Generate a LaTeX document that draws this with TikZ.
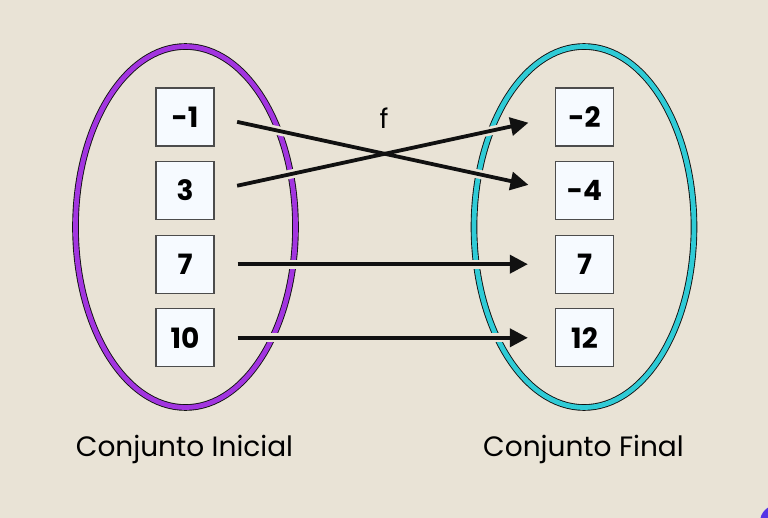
\documentclass[tikz,border=0pt]{standalone}
\usepackage{fontspec}
\setmainfont{Poppins}
\usetikzlibrary{arrows.meta, positioning, shapes.geometric}
\definecolor{paper}{HTML}{E9E3D6}
\definecolor{setpurple}{HTML}{A235E0}
\definecolor{setteal}{HTML}{2FCBD6}
\definecolor{boxfill}{HTML}{F6FAFF}
\definecolor{ink}{HTML}{111111}
\definecolor{blob}{HTML}{5533E6}

\begin{document}
\begin{tikzpicture}[x=1pt, y=-1pt,
  conj/.style={ellipse, inner sep=0pt, minimum width=220pt, minimum height=361pt,
               draw=ink, line width=0.9pt, double distance=4.8pt},
  elem/.style={draw=black!70, fill=boxfill, line width=1.3pt, minimum size=58pt,
               inner sep=0pt, font=\bfseries\fontsize{28}{28}\selectfont},
  halo/.style={draw=paper, line width=9pt, shorten <=23pt, shorten >=30pt},
  arr/.style={-{Triangle[length=18pt, width=18pt]}, line width=3.8pt, color=ink,
              shorten <=23pt, shorten >=27pt},
  setlabel/.style={anchor=base, font=\fontsize{28}{28}\selectfont},
]
\fill[paper] (0,0) rectangle (768,518);
\useasboundingbox (0,0) rectangle (768,518);
\fill[blob] (777,522) circle (17);

% conjuntos
\node[conj, double=setpurple] (inicial) at (185.5,227) {};
\node[conj, double=setteal] (final) at (584,227) {};

% elementos
\node[elem] (a1) at (185,117) {-1};
\node[elem, below=14.3pt of a1] (a2) {3};
\node[elem, below=14.3pt of a2] (a3) {7};
\node[elem, below=14.3pt of a3] (a4) {10};
\node[elem] (b1) at (584.5,117) {-2};
\node[elem, below=14.3pt of b1] (b2) {-4};
\node[elem, below=14.3pt of b2] (b3) {7};
\node[elem, below=14.3pt of b3] (b4) {12};

% f
\foreach \s/\t in {a1/b2, a2/b1, a3/b3, a4/b4}
  \draw[halo] (\s.east) -- (\t.west);
\foreach \s/\t in {a1/b2, a2/b1, a3/b3, a4/b4}
  \draw[arr] (\s.east) -- (\t.west);
\node[font=\fontsize{27}{27}\selectfont] (f) at (384,118) {f};

\node[setlabel] (linicial) at (184.5,456) {Conjunto Inicial};
\node[setlabel] (lfinal) at (583.5,456) {Conjunto Final};
\end{tikzpicture}
\end{document}
